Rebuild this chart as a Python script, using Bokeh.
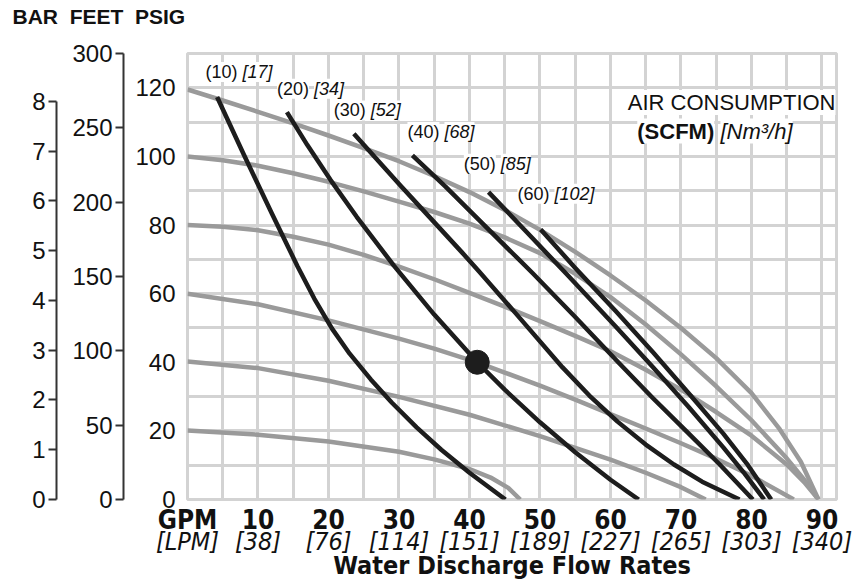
from bokeh.plotting import figure
from bokeh.models import Range1d, LinearAxis, FixedTicker, Label, Title
from bokeh.embed import file_html
from bokeh.resources import INLINE

# ---------------- data ----------------
# gray curves: pump performance at constant air inlet pressure (gpm, psig)
p120_gpm = [0, 5, 10, 15, 20, 25, 30, 35, 40, 45, 50, 55, 60, 65, 70, 75, 80, 84, 87, 89.5]
p120_psi = [119.5, 116.3, 113.0, 109.6, 106.1, 102.4, 98.6, 94.3, 89.6, 84.4, 78.6, 72.2, 65.3, 58.0, 50.0, 41.2, 31.0, 20.5, 11.0, 0]
p100_gpm = [0, 5, 10, 15, 20, 25, 30, 35, 40, 45, 50, 55, 60, 65, 70, 75, 80, 85, 88, 89.5]
p100_psi = [100, 98.9, 97.3, 95.1, 92.6, 89.8, 86.8, 83.8, 80.4, 76.4, 71.8, 65.8, 59.0, 51.0, 42.3, 33.0, 23.1, 12.0, 4.5, 0]
p80_gpm = [0, 5, 10, 15, 20, 25, 30, 35, 40, 45, 50, 55, 60, 65, 70, 75, 80, 85, 87.5, 89.5]
p80_psi = [80, 79.5, 78.5, 76.6, 74.3, 71.3, 67.9, 64.2, 60.2, 56.2, 52.0, 47.7, 43.2, 37.8, 32.0, 25.5, 18.6, 10.2, 5.0, 0]
p60_gpm = [0, 10, 20, 30, 35, 41.1, 45, 50, 55, 60, 65, 70, 75, 80, 86.0]
p60_psi = [60, 56.9, 52.2, 46.9, 44.0, 40.0, 37.0, 33.2, 29.1, 24.9, 20.7, 16.4, 11.9, 6.9, 0]
p40_gpm = [0, 10, 20, 30, 40, 50, 60, 65, 70, 73.5]
p40_psi = [40.2, 38.3, 34.6, 29.9, 24.7, 18.5, 11.6, 7.8, 3.6, 0]
p20_gpm = [0, 10, 20, 30, 35, 40, 43, 45.5, 47.2]
p20_psi = [20.1, 18.9, 16.9, 13.9, 11.7, 8.9, 6.4, 3.4, 0]

# black curves: constant air consumption (SCFM)
a10_gpm = [4.2, 8.0, 12.0, 15.6, 18.0, 20.5, 23.0, 26.0, 29.0, 32.5, 36.0, 40.0, 43.0, 45.1]
a10_psi = [117.3, 100.5, 83.2, 68.0, 58.5, 49.8, 42.5, 35.0, 28.2, 21.0, 14.5, 7.8, 3.2, 0]
a20_gpm = [14.1, 17.0, 20.3, 24.0, 29.3, 35.0, 41.1, 45.0, 50.0, 55.0, 60.0, 64.0]
a20_psi = [112.9, 103.3, 93.1, 82.4, 68.1, 53.9, 40.0, 32.0, 22.5, 13.75, 5.75, 0]
a30_gpm = [23.6, 30.2, 34.2, 38.9, 41.3, 46.5, 53.2, 57.0, 61.0, 65.0, 69.0, 73.0, 78.3]
a30_psi = [106.6, 91.5, 82.6, 72.1, 66.6, 54.4, 38.5, 30.3, 22.7, 16.0, 10.2, 5.2, 0]
a40_gpm = [31.9, 36.6, 41.3, 46.0, 48.9, 55.0, 61.2, 66.0, 71.0, 75.5, 80.2]
a40_psi = [100.3, 91.2, 81.6, 72.0, 66.1, 53.2, 39.8, 29.6, 19.4, 10.2, 0]
a50_gpm = [42.7, 48.0, 54.0, 60.7, 66.0, 71.0, 76.0, 79.0, 81.8]
a50_psi = [89.6, 78.2, 65.2, 50.5, 38.6, 27.2, 15.2, 7.6, 0]
a60_gpm = [50.1, 55.0, 60.7, 66.0, 71.0, 76.0, 79.5, 82.8]
a60_psi = [78.7, 67.5, 55.0, 43.0, 31.2, 19.2, 10.0, 0]

air_scfm = [10, 20, 30, 40, 50, 60]
air_nm3h = [17, 34, 52, 68, 85, 102]
air_label_gpm = [2.55, 12.7, 20.75, 31.2, 39.2, 46.8]
air_label_psi = [124.6, 119.7, 113.4, 107.1, 97.9, 89.1]

example_gpm = [41.1]
example_psi = [40.0]

gpm_ticks = [0, 10, 20, 30, 40, 50, 60, 70, 80, 90]
lpm_labels = ["[LPM]", "[38]", "[76]", "[114]", "[151]", "[189]", "[227]", "[265]", "[303]", "[340]"]
psig_ticks = [0, 20, 40, 60, 80, 100, 120]
feet_ticks = [0, 50, 100, 150, 200, 250, 300]
bar_ticks = [0, 1, 2, 3, 4, 5, 6, 7, 8]

# ---------------- figure ----------------
FONT = "Liberation Sans"
NARROW = "'DejaVu Sans Condensed', 'Liberation Sans', sans-serif"
GRID = "#d3d3d3"
GRAY = "#9a9a9a"
BLACK = "#1d1d1d"
AX = "#333333"
INK = "#111111"

p = figure(width=855, height=579, x_range=Range1d(0, 92.06), y_range=Range1d(0, 130),
           output_backend="svg", toolbar_location=None,
           min_border_left=187, min_border_right=19, min_border_top=53, min_border_bottom=80)
p.background_fill_color = "white"
p.border_fill_color = "white"
p.outline_line_color = GRID
p.outline_line_width = 3

p.extra_y_ranges = {"feet": Range1d(0, 300), "bar": Range1d(0, 130 / 14.5038)}

# grid
p.xgrid.ticker = FixedTicker(ticks=list(range(0, 95, 5)))
p.ygrid.ticker = FixedTicker(ticks=list(range(0, 131, 10)))
p.grid.grid_line_color = GRID
p.grid.grid_line_width = 3

# x axis: GPM row
xa = p.xaxis[0]
xa.ticker = FixedTicker(ticks=gpm_ticks)
xa.major_label_overrides = {t: ("GPM" if t == 0 else str(t)) for t in gpm_ticks}
xa.axis_line_color = None
xa.major_tick_line_color = None
xa.minor_tick_line_color = None
xa.major_label_standoff = -1
xa.major_label_text_font = NARROW
xa.major_label_text_font_style = "bold"
xa.major_label_text_font_size = "26px"
xa.major_label_text_color = INK

# x axis: LPM row
xl = LinearAxis(ticker=FixedTicker(ticks=gpm_ticks),
                major_label_overrides={t: s for t, s in zip(gpm_ticks, lpm_labels)})
xl.axis_line_color = None
xl.major_tick_line_color = None
xl.minor_tick_line_color = None
xl.major_label_standoff = -17
xl.major_label_text_font = NARROW
xl.major_label_text_font_style = "italic"
xl.major_label_text_font_size = "25px"
xl.major_label_text_color = INK
p.add_layout(xl, "below")

p.add_layout(Title(text="Water Discharge Flow Rates", align="center", standoff=-19,
                   text_font=NARROW, text_font_style="bold", text_font_size="25px",
                   text_color=INK), "below")

# y axis: PSIG
ya = p.yaxis[0]
ya.ticker = FixedTicker(ticks=psig_ticks)
ya.axis_line_color = None
ya.major_tick_line_color = None
ya.minor_tick_line_color = None
ya.major_label_standoff = 6
ya.major_label_text_font = FONT
ya.major_label_text_font_size = "24px"
ya.major_label_text_color = INK
ya.axis_label = " "
ya.axis_label_text_font_size = "1px"
ya.axis_label_standoff = 5

# y axis: FEET
fa = LinearAxis(y_range_name="feet", ticker=FixedTicker(ticks=feet_ticks))
fa.axis_line_color = AX
fa.axis_line_width = 2
fa.major_tick_line_color = AX
fa.major_tick_line_width = 2
fa.major_tick_out = 8
fa.major_tick_in = 0
fa.minor_tick_line_color = None
fa.major_label_standoff = 3
fa.major_label_text_font = FONT
fa.major_label_text_font_size = "24px"
fa.major_label_text_color = INK
fa.axis_label = " "
fa.axis_label_text_font_size = "1px"
fa.axis_label_standoff = 9
p.add_layout(fa, "left")

# y axis: BAR
ba = LinearAxis(y_range_name="bar", ticker=FixedTicker(ticks=bar_ticks), bounds=(0, 8))
ba.axis_line_color = AX
ba.axis_line_width = 2
ba.major_tick_line_color = AX
ba.major_tick_line_width = 2
ba.major_tick_out = 8
ba.major_tick_in = 0
ba.minor_tick_line_color = None
ba.major_label_standoff = 3
ba.major_label_text_font = FONT
ba.major_label_text_font_size = "24px"
ba.major_label_text_color = INK
p.add_layout(ba, "left")

# axis unit headings (a blank spacer title keeps them clear of the frame)
p.add_layout(Title(text="\u00a0", text_font_size="1px", standoff=23), "above")
p.add_layout(Title(text="BAR\u00a0 FEET\u00a0 PSIG", align="left", offset=-175, standoff=0,
                   text_font=FONT, text_font_style="bold", text_font_size="21px",
                   text_color=INK), "above")

# curves
for gx, gy in [(p120_gpm, p120_psi), (p100_gpm, p100_psi), (p80_gpm, p80_psi),
               (p60_gpm, p60_psi), (p40_gpm, p40_psi), (p20_gpm, p20_psi)]:
    p.line(gx, gy, line_color=GRAY, line_width=4.5, line_join="round")
for bx, by in [(a10_gpm, a10_psi), (a20_gpm, a20_psi), (a30_gpm, a30_psi),
               (a40_gpm, a40_psi), (a50_gpm, a50_psi), (a60_gpm, a60_psi)]:
    p.line(bx, by, line_color=BLACK, line_width=4.5, line_join="round")
p.scatter(example_gpm, example_psi, size=24, fill_color=BLACK, line_color=BLACK)

# air consumption labels
for lx, ly, s, n in zip(air_label_gpm, air_label_psi, air_scfm, air_nm3h):
    p.add_layout(Label(x=lx, y=ly, text=f"({s})", text_font=FONT, text_font_size="18px",
                       text_align="left", text_baseline="middle", text_color=INK,
                       background_fill_color="white"))
    p.add_layout(Label(x=lx, y=ly, x_offset=37, text=f"[{n}]", text_font=FONT, text_font_size="18px",
                       text_font_style="italic", text_align="left", text_baseline="middle",
                       text_color=INK, background_fill_color="white"))

p.add_layout(Label(x=92.06, y=115.7, x_offset=-1, text="AIR CONSUMPTION", text_font=FONT,
                   text_font_size="22px", text_align="right", text_baseline="middle",
                   text_color=INK, background_fill_color="white"))
p.add_layout(Label(x=63.8, y=107.4, text="(SCFM)", text_font=FONT, text_font_style="bold",
                   text_font_size="22px", text_align="left", text_baseline="middle",
                   text_color=INK, background_fill_color="white"))
p.add_layout(Label(x=75.6, y=107.4, text="[Nm\u00b3/h]", text_font=FONT, text_font_style="italic",
                   text_font_size="22px", text_align="left", text_baseline="middle",
                   text_color=INK, background_fill_color="white"))

open("out.html", "w").write(file_html(p, INLINE))
